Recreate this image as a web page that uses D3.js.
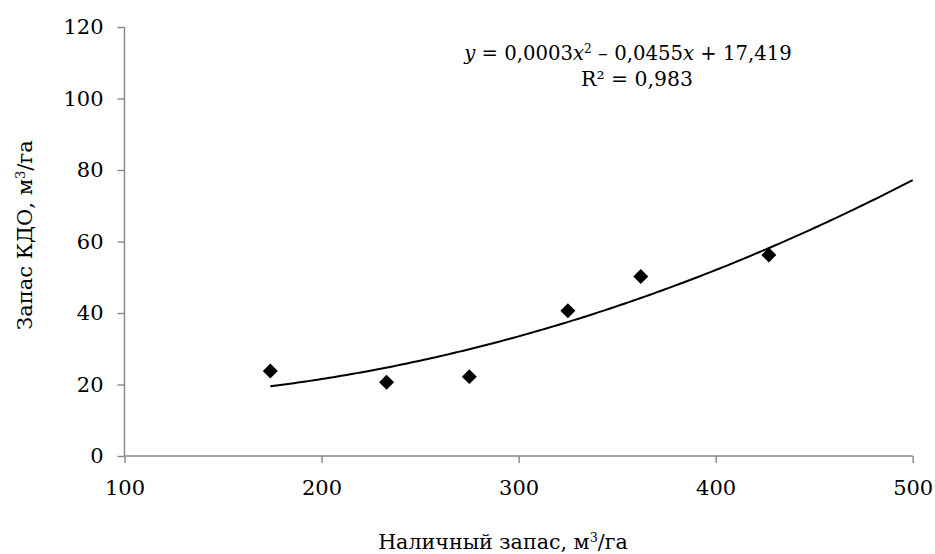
<!DOCTYPE html>
<html>
<head>
<meta charset="utf-8">
<script src="https://cdn.jsdelivr.net/npm/d3@7"></script>
<style>
  body { margin: 0; background: #fff; }
</style>
</head>
<body>
<script>
// values
var stockX = [174, 233, 275, 325, 362, 427];      // наличный запас, м3/га
var kdoY   = [23.8, 20.6, 22.2, 40.6, 50.2, 56.2]; // запас КДО, м3/га
var xTicks = [100, 200, 300, 400, 500];
var yTicks = [0, 20, 40, 60, 80, 100, 120];
// trend curve coefficients (c, b, a) as drawn
var trendCoef = [17.419, -0.0455, 0.00033];

var width = 935, height = 554;
var margin = {left: 124.5, right: 22.3, top: 27, bottom: 98};
// Times is not available here, DejaVu Serif is the closest serif face
var serif = "'DejaVu Serif', serif";

var svg = d3.select('body').append('svg')
    .attr('width', width)
    .attr('height', height)
    .attr('font-family', serif)

// squeeze a text to the width it has in the reference
function fit(t, w) {
  var len = t.node().getComputedTextLength()
  t.attr('font-size', (+t.attr('font-size')) * w / len)
}
function sup(t, s) {
  t.append('tspan').attr('baseline-shift', 'super').style('font-size', '62%').text(s)
}

var x = d3.scaleLinear().domain([100, 500]).range([margin.left, width - margin.right])
var y = d3.scaleLinear().domain([0, 120]).range([height - margin.bottom, margin.top])

var axisColor = '#868686'

var gx = svg.append('g')
    .attr('transform', 'translate(0,' + y(0) + ')')
    .call(d3.axisBottom(x).tickValues(xTicks).tickSize(7).tickPadding(17).tickFormat(d3.format('d')))
var gy = svg.append('g')
    .attr('transform', 'translate(' + x(100) + ',0)')
    .call(d3.axisLeft(y).tickValues(yTicks).tickSize(7).tickPadding(14).tickFormat(d3.format('d')))

gx.attr('font-family', serif).attr('font-size', 21)
gy.attr('font-family', serif).attr('font-size', 21)
svg.selectAll('.domain').attr('stroke', axisColor).attr('stroke-width', 1.4)
svg.selectAll('.tick line').attr('stroke', axisColor).attr('stroke-width', 1.4)
svg.selectAll('.tick text').attr('fill', '#000')
gx.selectAll('.domain').attr('d', 'M' + x(100) + ',0H' + x(500))
gy.selectAll('.domain').attr('d', 'M0,' + y(0) + 'V' + y(120))

// trend curve
var xmin = d3.min(stockX)
var curvePts = d3.range(xmin, 500.01, 2).map(function (v) {
  return [v, trendCoef[0] + trendCoef[1] * v + trendCoef[2] * v * v]
})
svg.append('path')
    .datum(curvePts)
    .attr('fill', 'none')
    .attr('stroke', '#000')
    .attr('stroke-width', 2)
    .attr('d', d3.line().x(function (d) { return x(d[0]) }).y(function (d) { return y(d[1]) }))

// markers
var diamond = d3.symbol().type(d3.symbolSquare).size(112)
svg.selectAll('.pt')
    .data(stockX)
  .enter().append('path')
    .attr('class', 'pt')
    .attr('d', diamond)
    .attr('fill', '#000')
    .attr('transform', function (d, i) { return 'translate(' + x(d) + ',' + y(kdoY[i]) + ') rotate(45)' })

// equation
var eq = svg.append('text')
    .attr('x', 628).attr('y', 60)
    .attr('text-anchor', 'middle')
    .attr('fill', '#000')
    .attr('font-size', 22)
eq.append('tspan').attr('font-style', 'italic').text('y')
eq.append('tspan').text(' = 0,0003')
eq.append('tspan').attr('font-style', 'italic').text('x')
sup(eq, '2')
eq.append('tspan').text(' – 0,0455')
eq.append('tspan').attr('font-style', 'italic').text('x')
eq.append('tspan').text(' + 17,419')
fit(eq, 328)

var r2 = svg.append('text')
    .attr('x', 637).attr('y', 86)
    .attr('text-anchor', 'middle')
    .attr('fill', '#000')
    .attr('font-size', 22)
    .text('R² = 0,983')
fit(r2, 112)

// axis titles
var xt = svg.append('text')
    .attr('x', 503).attr('y', 549)
    .attr('text-anchor', 'middle')
    .attr('fill', '#000')
    .attr('font-size', 22)
xt.append('tspan').text('Наличный запас, м')
sup(xt, '3')
xt.append('tspan').text('/га')
fit(xt, 250)

var yt = svg.append('text')
    .attr('transform', 'translate(32,235) rotate(-90)')
    .attr('text-anchor', 'middle')
    .attr('fill', '#000')
    .attr('font-size', 22)
yt.append('tspan').text('Запас КДО, м')
sup(yt, '3')
yt.append('tspan').text('/га')
fit(yt, 190)
</script>
</body>
</html>
